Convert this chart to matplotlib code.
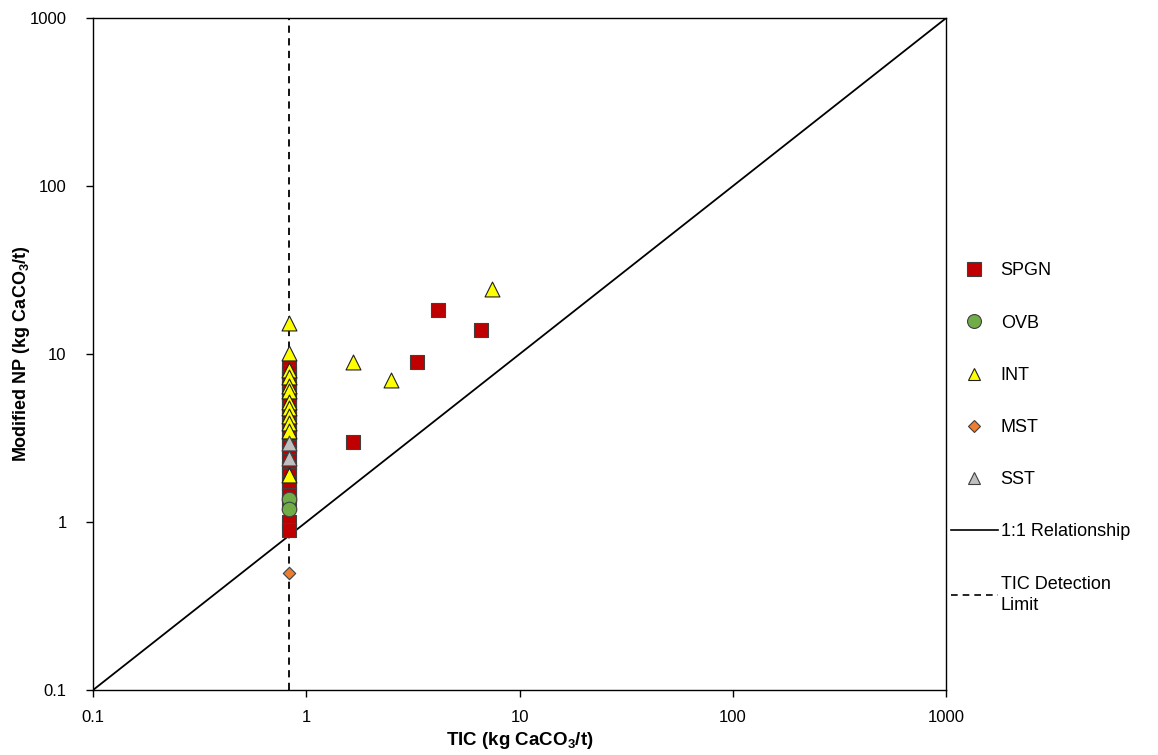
import matplotlib
matplotlib.use("Agg")
import matplotlib.pyplot as plt
from matplotlib.lines import Line2D

plt.rcParams['font.family'] = ['Liberation Sans', 'DejaVu Sans']
plt.rcParams['mathtext.fontset'] = 'custom'
plt.rcParams['mathtext.rm'] = 'Liberation Sans'
plt.rcParams['mathtext.bf'] = 'Liberation Sans:bold'

# detection limit for TIC (kg CaCO3/t)
det_limit = 0.83

# SPGN
spgn_x = [0.83] * 24 + [1.65, 3.3, 4.13, 6.6]
spgn_y = [8.3, 7.8, 7.2, 6.8, 6.2, 5.8, 5.3, 4.9, 4.5, 4.1, 3.8, 3.4,
          3.1, 2.8, 2.6, 2.3, 2.1, 1.9, 1.7, 1.55, 1.45, 1.3, 1.0, 0.9,
          3.0, 9.0, 18.3, 14.0]
# OVB
ovb_x = [0.83, 0.83]
ovb_y = [1.38, 1.2]
# INT
int_x = [0.83] * 12 + [1.65, 2.5, 7.4]
int_y = [15.3, 10.1, 8.0, 7.3, 6.5, 6.0, 5.2, 4.8, 4.3, 3.9, 3.5, 1.9,
         9.0, 7.0, 24.5]
# MST
mst_x = [0.83]
mst_y = [0.5]
# SST
sst_x = [0.83, 0.83]
sst_y = [2.95, 2.4]

one_to_one = [0.1, 1000]

fig = plt.figure(figsize=(11.58, 7.55), dpi=100)
ax = fig.add_axes([0.0803, 0.086, 0.7367, 0.89])

ax.plot(one_to_one, one_to_one, color='black', lw=1.3, zorder=1)
ax.axvline(det_limit, color='black', lw=1.3, ls=(0, (4, 3)), zorder=1)

ax.scatter(spgn_x, spgn_y, marker='s', s=100, c='#C00000', edgecolors='#404040', linewidths=0.8, zorder=3)
ax.scatter(ovb_x, ovb_y, marker='o', s=110, c='#70AD47', edgecolors='#404040', linewidths=0.8, zorder=3)
ax.scatter(int_x, int_y, marker='^', s=115, c='#FFFF00', edgecolors='#202020', linewidths=0.8, zorder=4)
ax.scatter(mst_x, mst_y, marker='D', s=40, c='#ED7D31', edgecolors='#404040', linewidths=0.8, zorder=3)
ax.scatter(sst_x, sst_y, marker='^', s=115, c='#BFBFBF', edgecolors='#404040', linewidths=0.8, zorder=4)

ax.set_xscale('log')
ax.set_yscale('log')
ax.set_xlim(0.1, 1000)
ax.set_ylim(0.1, 1000)
ticks = [0.1, 1, 10, 100, 1000]
tick_labels = ['0.1', '1', '10', '100', '1000']
ax.set_xticks(ticks)
ax.set_xticklabels(tick_labels)
ax.set_yticks(ticks)
ax.set_yticklabels(tick_labels)
ax.minorticks_off()
ax.tick_params(direction='out', length=5, width=1, labelsize=12, colors='black')
ax.tick_params(axis='y', pad=14)
ax.tick_params(axis='x', pad=9)
for sp in ax.spines.values():
    sp.set_linewidth(1)

ax.set_xlabel(r'TIC (kg CaCO$_\mathbf{3}$/t)', fontsize=13.5, fontweight='bold', labelpad=4)
ax.set_ylabel(r'Modified NP (kg CaCO$_\mathbf{3}$/t)', fontsize=13, fontweight='bold')
ax.yaxis.set_label_coords(-0.071, 0.5)

handles = [
    Line2D([], [], ls='none', marker='s', ms=10, mfc='#C00000', mec='#404040', mew=0.8),
    Line2D([], [], ls='none', marker='o', ms=10, mfc='#70AD47', mec='#404040', mew=0.8),
    Line2D([], [], ls='none', marker='^', ms=9, mfc='#FFFF00', mec='#202020', mew=0.8),
    Line2D([], [], ls='none', marker='D', ms=6, mfc='#ED7D31', mec='#404040', mew=0.8),
    Line2D([], [], ls='none', marker='^', ms=9, mfc='#BFBFBF', mec='#404040', mew=0.8),
    Line2D([], [], color='black', lw=1.2),
    Line2D([], [], color='black', lw=1.2, ls=(0, (4, 3))),
]
labels = ['SPGN', 'OVB', 'INT', 'MST', 'SST', '1:1 Relationship', 'TIC Detection\nLimit']
leg = fig.legend(handles, labels, loc='upper left', bbox_to_anchor=(0.815, 0.662),
                 frameon=False, fontsize=13, labelspacing=1.95, handlelength=2.6,
                 handletextpad=0.15, borderaxespad=0)
for t in leg.get_texts():
    t.set_linespacing(1.3)

fig.savefig('out.png', dpi=100)
